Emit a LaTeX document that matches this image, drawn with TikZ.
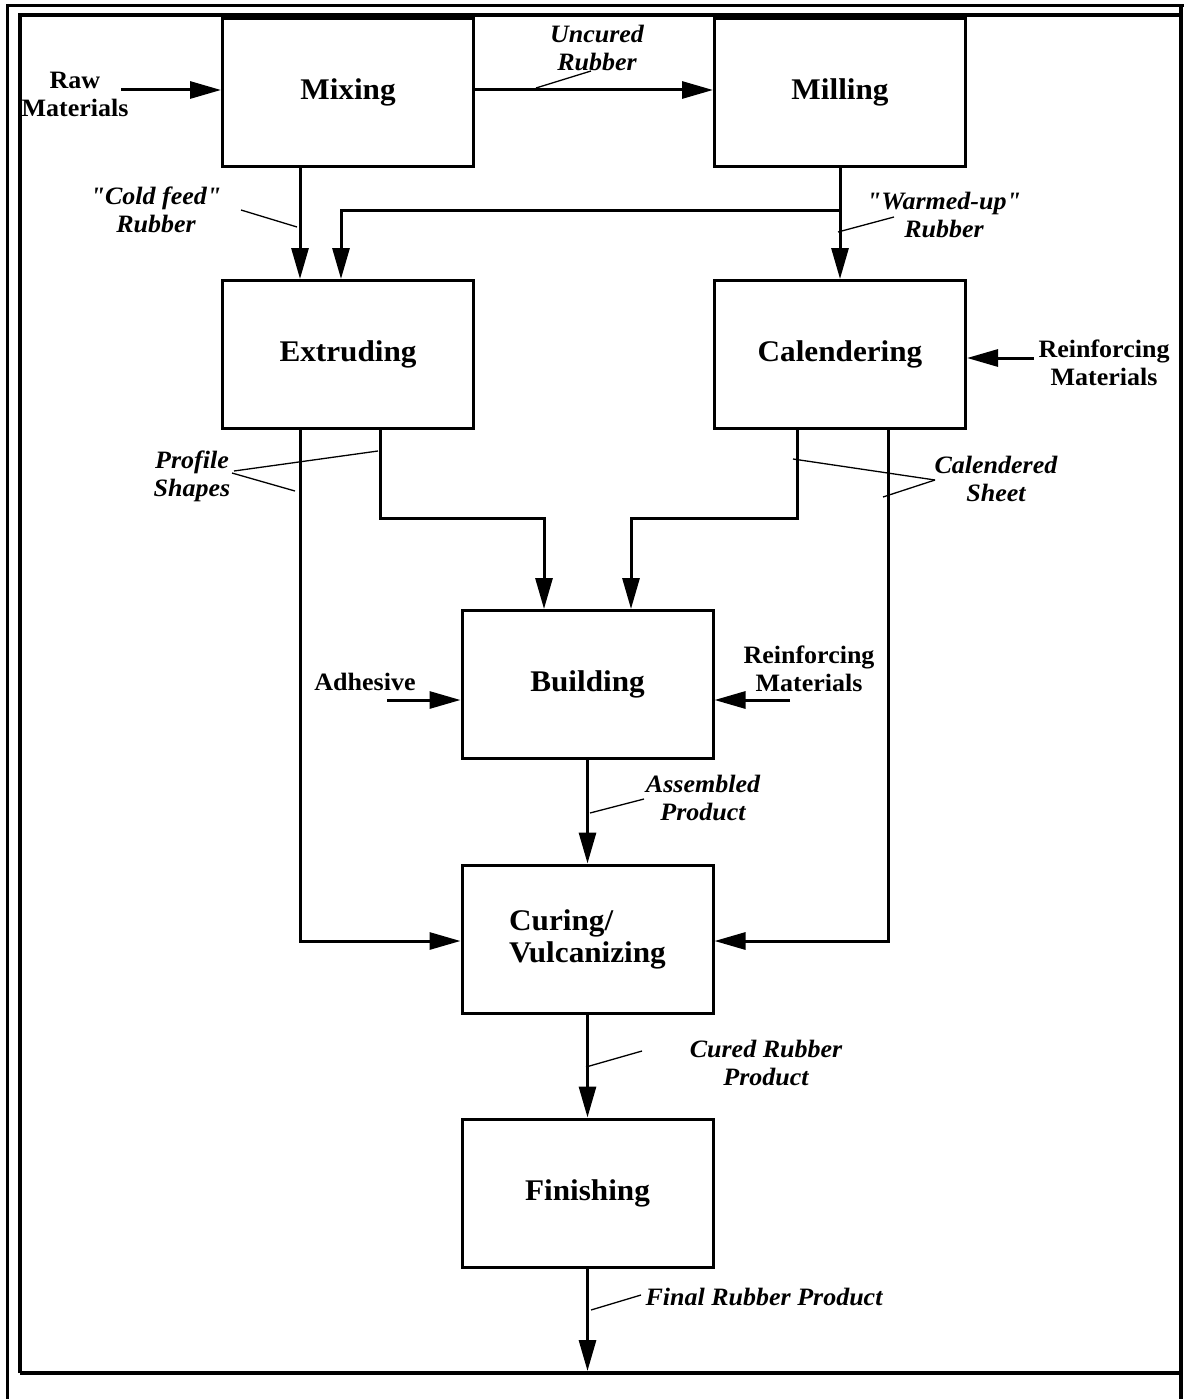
\documentclass[tikz,border=0pt]{standalone}
\usepackage{fontspec}
\setmainfont{Liberation Serif}[FakeStretch=1.04,Ligatures=TeXOff]
\usetikzlibrary{arrows.meta}
\begin{document}
\begin{tikzpicture}[x=1pt,y=-1pt,
  proc/.style={draw,line width=3pt,minimum width=251pt,minimum height=148pt,inner sep=0pt,font=\fontsize{30}{32}\selectfont\bfseries,align=center},
  lbl/.style={inner sep=0pt,font=\fontsize{25}{28}\selectfont\bfseries,align=center},
  ilbl/.style={inner sep=0pt,font=\fontsize{25}{28}\selectfont\bfseries\itshape,align=center},
  flow/.style={line width=3pt,-{Triangle[length=31pt,width=17pt]}},
  lead/.style={line width=1.3pt},
  framel/.style={line width=3.6pt}]
\useasboundingbox (0,0) rectangle (1183,1399);
% page frames
\draw[framel] (7.5,1400) -- (7.5,5.5) -- (1185,5.5);
\draw[framel] (1181,5.5) -- (1181,1400);
\draw[framel] (20,1373) -- (20,15) -- (1181,15);
\draw[framel] (20,1373) -- (1181,1373);
% process boxes
\node[proc] (mix) at (348,92.5) {Mixing};
\node[proc] (mil) at (840,92.5) {Milling};
\node[proc] (ext) at (348,354.5) {Extruding};
\node[proc] (cal) at (840,354.5) {Calendering};
\node[proc] (bld) at (587.5,684.5) {Building};
\node[proc,align=left] (cur) at (587.5,939) {Curing/\\Vulcanizing};
\node[proc] (fin) at (587.5,1193) {Finishing};
% labels
\node[lbl] (raw) at (75,94) {Raw\\Materials};
\node[ilbl] (unc) at (597,47.5) {Uncured\\Rubber};
\node[ilbl] (cold) at (156,210) {"Cold feed"\\Rubber};
\node[ilbl] (warm) at (944,214.5) {"Warmed-up"\\Rubber};
\node[lbl] (rf1) at (1104,362.5) {Reinforcing\\Materials};
\node[ilbl] (prof) at (192,476) {Profile\\Shapes};
\node[ilbl] (caln) at (996,478.5) {Calendered\\Sheet};
\node[lbl] (adh) at (365,682) {Adhesive};
\node[lbl] (rf2) at (809,669) {Reinforcing\\Materials};
\node[ilbl] (asm) at (703,798) {Assembled\\Product};
\node[ilbl] (cured) at (766,1063) {Cured Rubber\\Product};
\node[ilbl] (final) at (764,1296.5) {Final Rubber Product};
% free ends
\coordinate (rawend) at (121,90);
\coordinate (wb) at (840,210);
\coordinate (cy) at (0,941);
\coordinate (rc) at (1034,358);
\coordinate (ad) at (387,700);
\coordinate (rb) at (790,700);
\coordinate (outend) at (587.5,1371);
% flows
\draw[flow] (rawend) -- (rawend -| mix.west);
\draw[flow] (mix.east |- rawend) -- (mil.west |- rawend);
\draw[flow] ([xshift=-48pt]mix.south) -- ([xshift=-48pt]ext.north);
\draw[flow] (mil.south) -- (cal.north);
\draw[flow] (wb) -| ([xshift=-7pt]ext.north);
\draw[flow] ([xshift=-48pt]ext.south) |- (cur.west |- cy);
\draw[flow] ([xshift=32pt]ext.south) -- ++(0,88) -| ([xshift=-43.5pt]bld.north);
\draw[flow] ([xshift=-43pt]cal.south) -- ++(0,88) -| ([xshift=43.5pt]bld.north);
\draw[flow] ([xshift=48pt]cal.south) |- (cur.east |- cy);
\draw[flow] (rc) -- (rc -| cal.east);
\draw[flow] (ad) -- (ad -| bld.west);
\draw[flow] (rb) -- (rb -| bld.east);
\draw[flow] (bld.south) -- (cur.north);
\draw[flow] (cur.south) -- (fin.north);
\draw[flow] (fin.south) -- (outend);
% leader lines
\draw[lead] (536,88) -- (591,71);
\draw[lead] (241,210) -- (297,227);
\draw[lead] (838,232) -- (894,217);
\draw[lead] (234,471) -- (378,451);
\draw[lead] (232,473) -- (295,491);
\draw[lead] (935,480) -- (793,459);
\draw[lead] (935,480) -- (883,497);
\draw[lead] (590,813) -- (644,799);
\draw[lead] (586,1067) -- (642,1051);
\draw[lead] (591,1310) -- (641,1295);
\end{tikzpicture}
\end{document}
